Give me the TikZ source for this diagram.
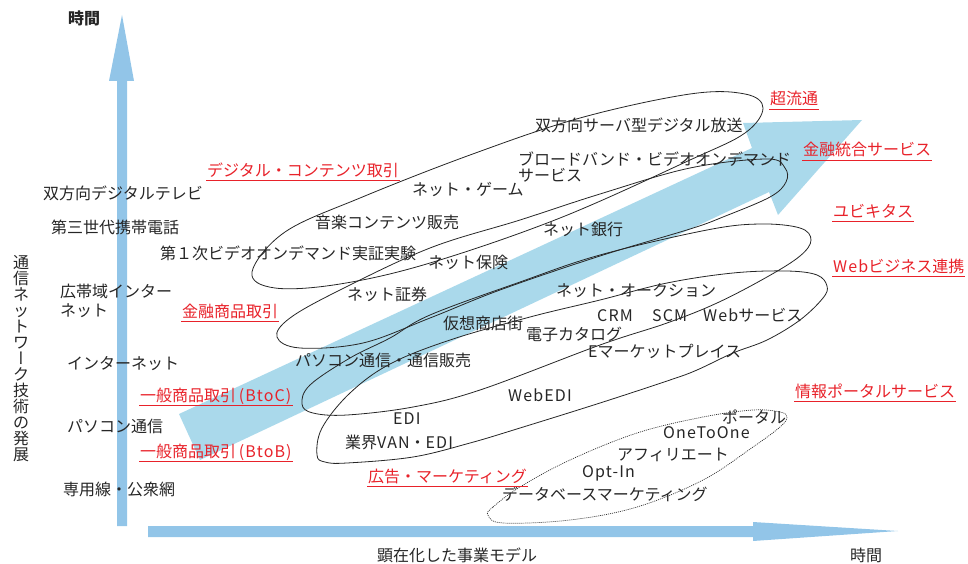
\documentclass[tikz,border=0pt]{standalone}
\usepackage{fontspec}
\setmainfont{Noto Sans CJK JP}
\newfontfamily\vfont[RawFeature=+vert]{Noto Sans CJK JP}
\newfontfamily\spfont[LetterSpace=7]{Noto Sans CJK JP}
\definecolor{axisblue}{RGB}{146,197,232}
\definecolor{arrowblue}{RGB}{170,217,235}
\definecolor{lblred}{RGB}{232,34,42}
\definecolor{txt}{RGB}{38,38,38}
\begin{document}
\begin{tikzpicture}[x=1pt,y=-1pt,
  lbl/.style={anchor=west,inner sep=0pt,font=\fontsize{16}{18}\selectfont,text=txt,text height=13pt,text depth=3pt},
  redlbl/.style={lbl,text=lblred},
  uline/.style={draw=lblred,line width=1.1pt},
  loopline/.style={draw=black!85,line width=0.8pt},
  dotloop/.style={draw=black!80,line width=0.7pt,dash pattern=on 1pt off 1pt}]
\useasboundingbox (0,0) rectangle (968,564);

% axes
\fill[axisblue] (117,526) -- (117,81) -- (109,81) -- (122,15) -- (134,81) -- (127,81) -- (127,526) -- cycle;
\fill[axisblue] (148,526) -- (753,526) -- (753,522) -- (898,531) -- (753,541) -- (753,537) -- (148,537) -- cycle;

% big diagonal arrow
\fill[arrowblue] (179,414) -- (752,148) -- (743,123) -- (862,120) -- (778,215) -- (769,192) -- (200,460) -- cycle;

% loops
\draw[loopline] plot[smooth cycle,tension=0.6] coordinates {(252,272) (285,232) (360,198) (470,155) (580,118) (690,94) (745,94) (763,108) (745,133) (690,160) (560,218) (430,263) (340,284) (275,288)};
\draw[loopline] plot[smooth cycle,tension=0.6] coordinates {(277,337) (290,318) (340,290) (430,248) (520,220) (600,194) (690,168) (767,159) (785,168) (786,182) (770,197) (723,217) (690,229) (600,256) (500,290) (430,318) (363,343) (300,348)};
\draw[loopline] plot[smooth cycle,tension=0.6] coordinates {(302,404) (310,385) (350,358) (390,338) (430,315) (520,282) (600,255) (707,230) (760,224) (800,228) (811,240) (800,256) (767,277) (717,303) (667,323) (600,345) (480,390) (413,407) (347,415) (313,413)};
\draw[loopline] plot[smooth cycle,tension=0.6] coordinates {(317,455) (322,428) (350,393) (390,364) (450,340) (530,317) (600,300) (667,283) (733,273) (787,271) (817,275) (827,286) (823,298) (800,320) (767,340) (733,353) (697,370) (670,380) (600,403) (520,428) (470,443) (413,457) (347,463) (325,462)};
\draw[dotloop] plot[smooth cycle,tension=0.6] coordinates {(488,515) (493,507) (520,487) (570,460) (637,433) (703,417) (753,410) (780,412) (787,417) (780,427) (753,447) (703,480) (637,507) (570,520) (503,523)};

% left labels
\node[lbl,font=\fontsize{16}{18}\selectfont\bfseries] (timev) at (68,20) {時間};
\node[lbl] (t1) at (43,195) {双方向デジタルテレビ};
\node[lbl] (t2) at (51,228) {第三世代携帯電話};
\node[lbl] (t3) at (60,292) {広帯域インター};
\node[lbl] (t4) at (60,311) {ネット};
\node[lbl] (t5) at (67,364) {インターネット};
\node[lbl] (t6) at (67,427) {パソコン通信};
\node[lbl] (t7) at (63,490) {専用線・公衆網};
\node[anchor=north,inner sep=0pt,align=center,text=txt,font=\fontsize{16}{16}\selectfont] (vt) at (21,255)
  {通\\信\\ネ\\ッ\\ト\\ワ\\{\vfont ー}\\ク\\技\\術\\の\\発\\展};
\node[lbl] (xl) at (377,556) {顕在化した事業モデル};
\node[lbl] (timeh) at (850,556) {時間};

% inner labels
\node[lbl] (n1) at (535,127) {双方向サーバ型デジタル放送};
\node[lbl] (n2) at (518,160) {ブロードバンド・ビデオオンデマンド};
\node[lbl] (n3) at (518,177) {サービス};
\node[lbl] (n4) at (412,190) {ネット・ゲーム};
\node[lbl] (n5) at (315,223) {音楽コンテンツ販売};
\node[lbl] (n6) at (160,254) {第１次ビデオオンデマンド実証実験};
\node[lbl] (n7) at (543,230) {ネット銀行};
\node[lbl] (n8) at (428,263) {ネット保険};
\node[lbl] (n9) at (347,295) {ネット証券};
\node[lbl] (n10) at (556,291) {ネット・オークション};
\node[lbl] (n11) at (597,316) {\spfont CRM};
\node[lbl] (n12) at (652,316) {\spfont SCM};
\node[lbl] (n13) at (703,316) {{\spfont Web}サービス};
\node[lbl] (n14) at (443,324) {仮想商店街};
\node[lbl] (n15) at (526,335) {電子カタログ};
\node[lbl] (n16) at (588,352) {Eマーケットプレイス};
\node[lbl] (n17) at (295,361) {パソコン通信・通信販売};
\node[lbl] (n18) at (508,396) {\spfont WebEDI};
\node[lbl] (n19) at (393,419) {\spfont EDI};
\node[lbl] (n20) at (345,443) {業界{\spfont VAN}・{\spfont EDI}};
\node[lbl] (n21) at (502,495) {データベースマーケティング};
\node[lbl] (n22) at (582,472) {\spfont Opt-In};
\node[lbl] (n23) at (617,455) {アフィリエート};
\node[lbl] (n24) at (663,433) {\spfont OneToOne};
\node[lbl] (n25) at (722,418) {ポータル};

% red labels
\node[redlbl] (r1) at (207,171) {デジタル・コンテンツ取引};
\node[redlbl] (r2) at (182,312) {金融商品取引};
\node[redlbl] (r3) at (140,396) {一般商品取引{\spfont\,(BtoC)}};
\node[redlbl] (r4) at (140,452) {一般商品取引{\spfont\,(BtoB)}};
\node[redlbl] (r5) at (368,477) {広告・マーケティング};
\node[redlbl] (r6) at (770,100) {超流通};
\node[redlbl] (r7) at (803,151) {金融統合サービス};
\node[redlbl] (r8) at (833,212) {ユビキタス};
\node[redlbl] (r9) at (833,267) {{\spfont Web}ビジネス連携};
\node[redlbl] (r10) at (795,392) {情報ポータルサービス};
\foreach \r in {r1,r2,r3,r4,r5,r6,r7,r8,r9,r10}
  \draw[uline] ([xshift=-1pt,yshift=-1pt]\r.south west) -- ([xshift=1pt,yshift=-1pt]\r.south east);
\end{tikzpicture}
\end{document}
